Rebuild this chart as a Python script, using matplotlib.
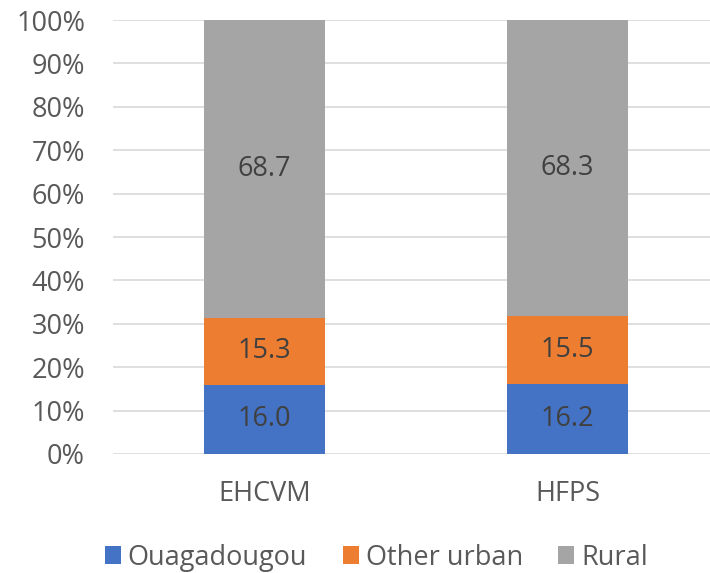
import matplotlib.pyplot as plt
import numpy as np

plt.rcParams['font.family'] = ['Open Sans', 'DejaVu Sans']

surveys = ['EHCVM', 'HFPS']
ouaga = [16.0, 16.2]
other_urban = [15.3, 15.5]
rural = [68.7, 68.3]

series = [('Ouagadougou', ouaga, '#4472C4'),
          ('Other urban', other_urban, '#ED7D31'),
          ('Rural', rural, '#A5A5A5')]

text_col = '#595959'

fig = plt.figure(figsize=(7.1, 5.73), dpi=100)
ax = fig.add_axes([0.159, 0.2077, 0.841, 0.7573])

x = np.arange(len(surveys))
bottom = np.zeros(len(surveys))
total = np.array(ouaga) + np.array(other_urban) + np.array(rural)
for name, vals, col in series:
    vals = np.array(vals)
    share = vals / total * 100
    ax.bar(x, share, width=0.4, bottom=bottom, color=col, label=name, zorder=2)
    for xi, b, s, v in zip(x, bottom, share, vals):
        ax.text(xi, b + s / 2, f'{v:.1f}', ha='center', va='center',
                fontsize=19.5, color='#404040', zorder=3)
    bottom += share

ax.set_xlim(-0.5, 1.47)
ax.set_ylim(0, 100)
ax.set_yticks(np.arange(0, 101, 10))
ax.set_yticklabels([f'{v}%' for v in range(0, 101, 10)])
ax.set_xticks(x)
ax.set_xticklabels(surveys)
ax.yaxis.grid(True, color='#D9D9D9', linewidth=1.2, zorder=0)
ax.tick_params(axis='both', length=0, labelsize=19.5, labelcolor=text_col)
ax.tick_params(axis='y', pad=20)
ax.tick_params(axis='x', pad=19)
for s in ax.spines.values():
    s.set_visible(False)

leg = fig.legend(loc='lower center', bbox_to_anchor=(0.53, -0.04), ncol=3,
                 frameon=False, fontsize=19.5, handlelength=0.6, handleheight=0.6,
                 handletextpad=0.25, columnspacing=1.3)
for t in leg.get_texts():
    t.set_color(text_col)

fig.savefig('out.png', dpi=100)
